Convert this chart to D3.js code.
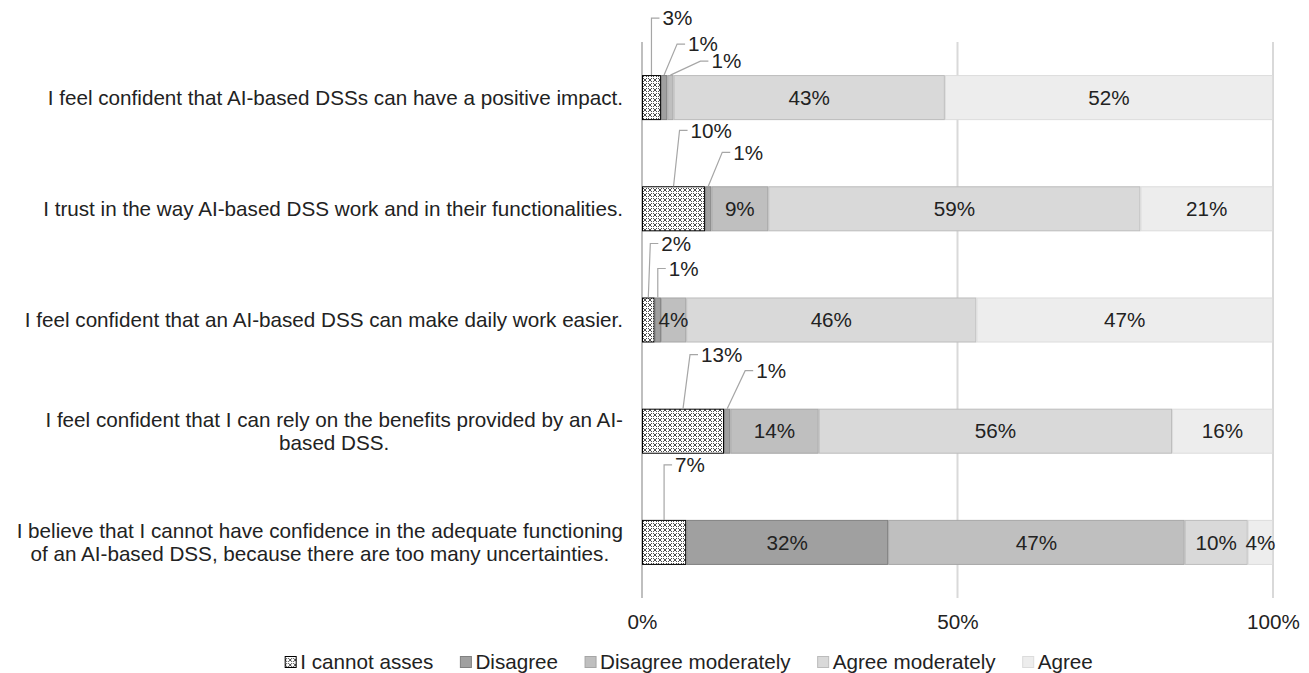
<!DOCTYPE html>
<html>
<head>
<meta charset="utf-8">
<script src="https://cdn.jsdelivr.net/npm/d3@7"></script>
<style>
  html, body { margin: 0; padding: 0; background: #fff; }
  svg { display: block; font-family: "Liberation Sans", Arial, sans-serif; }
</style>
</head>
<body>
<svg id="chart" width="1309" height="673"></svg>
<script>
// Survey statements (one bar each, top to bottom)
const statements = [
  ["I feel confident that AI-based DSSs can have a positive impact."],
  ["I trust in the way AI-based DSS work and in their functionalities."],
  ["I feel confident that an AI-based DSS can make daily work easier."],
  ["I feel confident that I can rely on the benefits provided by an AI-", "based DSS."],
  ["I believe that I cannot have confidence in the adequate functioning", "of an AI-based DSS, because there are too many uncertainties."]
];

// Answer categories, stacked left to right
const answers = ["I cannot asses", "Disagree", "Disagree moderately", "Agree moderately", "Agree"];

// Share of respondents (%) per statement, in the order of `answers`
const cannotAssess       = [3, 10, 2, 13, 7];
const disagree           = [1, 1, 1, 1, 32];
const disagreeModerately = [1, 9, 4, 14, 47];
const agreeModerately    = [43, 59, 46, 56, 10];
const agree              = [52, 21, 47, 16, 4];

const tickValues = [0, 0.5, 1];
const tickLabels = ["0%", "50%", "100%"];

// Callout placement for small segments: [row, answer index, dx, dy] in px from the segment's top centre
const callouts = [
  [0, 0, 0, -57], [0, 1, 13, -31], [0, 2, 30, -14],
  [1, 0, 6, -56], [1, 1, 14, -34],
  [2, 0, 2, -54], [2, 1, 0, -29],
  [3, 0, 7, -54], [3, 1, 18, -38],
  [4, 0, 0, -55]
];

const series = [cannotAssess, disagree, disagreeModerately, agreeModerately, agree];
const fills   = ["url(#hatch)", "#a0a0a0", "#bfbfbf", "#d9d9d9", "#ededed"];
const strokes = ["#000000", "#808080", "#a6a6a6", "#bcbcbc", "#dcdcdc"];

const svg = d3.select("#chart");
const textColor = "#222";
const fontSize = 20.67;

// lattice pattern for "I cannot asses"
const defs = svg.append("defs");
const pat = defs.append("pattern")
  .attr("id", "hatch").attr("patternUnits", "userSpaceOnUse")
  .attr("width", 5).attr("height", 5);
pat.append("rect").attr("width", 5).attr("height", 5).attr("fill", "#fff");
pat.append("path").attr("d", "M0,0 L5,5 M5,0 L0,5").attr("stroke", "#222").attr("stroke-width", 0.8);
pat.append("circle").attr("cx", 2.5).attr("cy", 2.5).attr("r", 0.7).attr("fill", "#fff");

const plot = { left: 642, right: 1273, top: 42, bottom: 598 };

const x = d3.scaleLinear().domain([0, 1]).range([plot.left, plot.right]);
const y = d3.scaleBand().domain(d3.range(statements.length))
  .range([plot.top, plot.bottom]).paddingInner(0.595).paddingOuter(0.2975);

// stacked data
const rows = statements.map((s, i) => {
  const vals = series.map(sr => sr[i]);
  const total = d3.sum(vals);
  let acc = 0;
  return vals.map((v, k) => {
    const seg = { row: i, k, v, x0: acc / total, x1: (acc + v) / total };
    acc += v;
    return seg;
  });
});

// gridlines
svg.append("g").selectAll("line").data(tickValues).join("line")
  .attr("x1", d => x(d)).attr("x2", d => x(d))
  .attr("y1", plot.top).attr("y2", plot.bottom)
  .attr("stroke", (d, i) => i === 0 ? "#bfbfbf" : "#d9d9d9")
  .attr("stroke-width", 2);

// x axis labels
const xAxis = d3.axisBottom(x).tickValues(tickValues)
  .tickFormat((d, i) => tickLabels[i]).tickSize(0).tickPadding(0);
const xg = svg.append("g").attr("transform", `translate(0,${plot.bottom + 16})`).call(xAxis);
xg.select(".domain").remove();
xg.selectAll("text").attr("font-size", fontSize).attr("fill", textColor)
  .attr("font-family", "Liberation Sans, Arial, sans-serif").attr("dy", "0.71em");

// bars
const barG = svg.append("g");
rows.forEach(row => {
  barG.selectAll(null).data(row).join("rect")
    .attr("x", d => x(d.x0) + 0.5)
    .attr("y", d => y(d.row) + 0.5)
    .attr("width", d => Math.max(0, x(d.x1) - x(d.x0) - 1))
    .attr("height", y.bandwidth() - 1)
    .attr("fill", d => fills[d.k])
    .attr("stroke", d => strokes[d.k])
    .attr("stroke-width", 1);
});

// inline value labels for segments without callouts
const calloutKey = new Set(callouts.map(c => c[0] + "-" + c[1]));
rows.forEach(row => {
  barG.selectAll(null).data(row.filter(d => !calloutKey.has(d.row + "-" + d.k))).join("text")
    .attr("x", d => (x(d.x0) + x(d.x1)) / 2)
    .attr("y", d => y(d.row) + y.bandwidth() / 2)
    .attr("dy", "0.35em")
    .attr("text-anchor", "middle")
    .attr("font-size", fontSize)
    .attr("fill", textColor)
    .text(d => d.v + "%");
});

// callout labels with leader lines
const callG = svg.append("g");
callouts.forEach(([r, k, dx, dy]) => {
  const seg = rows[r][k];
  const ax = (x(seg.x0) + x(seg.x1)) / 2;
  const ay = y(r);
  const ex = ax + dx, ey = ay + dy;
  callG.append("path")
    .attr("d", `M${ax},${ay} L${ex},${ey} L${ex + 8},${ey}`)
    .attr("fill", "none").attr("stroke", "#a6a6a6").attr("stroke-width", 1.2);
  callG.append("text")
    .attr("x", ex + 11).attr("y", ey).attr("dy", "0.35em")
    .attr("font-size", fontSize).attr("fill", textColor)
    .text(seg.v + "%");
});

// category labels: right-aligned block, lines centred within the block
const labelRight = 623;
const lineH = 23;
statements.forEach((lines, i) => {
  const g = svg.append("g");
  const cy = y(i) + y.bandwidth() / 2;
  const texts = lines.map((ln, j) => g.append("text")
    .attr("y", cy + (j - (lines.length - 1) / 2) * lineH)
    .attr("dy", "0.35em")
    .attr("font-size", fontSize).attr("fill", textColor)
    .attr("text-anchor", "middle")
    .text(ln));
  const widths = texts.map(t => t.node().getComputedTextLength());
  const w = d3.max(widths);
  texts.forEach(t => t.attr("x", labelRight - w / 2));
});

// legend
const legend = svg.append("g");
const legendY = 662;
const items = answers.map((a, k) => {
  const g = legend.append("g");
  g.append("rect").attr("x", 0).attr("y", legendY - 5.5).attr("width", 11).attr("height", 11)
    .attr("fill", fills[k]).attr("stroke", strokes[k]);
  const t = g.append("text").attr("x", 15).attr("y", legendY).attr("dy", "0.35em")
    .attr("font-size", fontSize).attr("fill", textColor).text(a);
  return { g, w: 15 + t.node().getComputedTextLength() };
});
const gap = 27;
const total = d3.sum(items, d => d.w) + gap * (items.length - 1);
let lx = 689 - total / 2;
items.forEach(it => { it.g.attr("transform", `translate(${lx},0)`); lx += it.w + gap; });
</script>
</body>
</html>
